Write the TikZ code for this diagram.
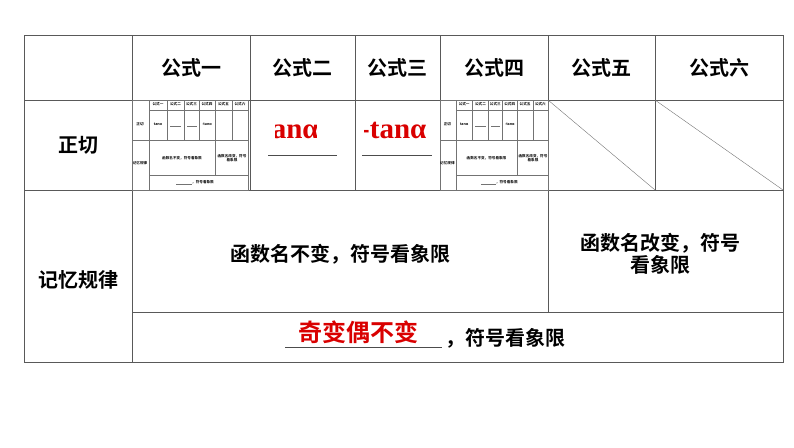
\documentclass[tikz,border=0pt]{standalone}
\usepackage{fontspec}
\newfontfamily\cjk{Noto Sans CJK SC Bold}
\setmainfont{Liberation Serif}
\begin{document}
\begin{tikzpicture}[x=1pt,y=-1pt,
  grid/.style={draw=black!65,line width=0.9pt},
  thin/.style={draw=black!55,line width=0.4pt},
  hd/.style={font=\cjk\fontsize{20}{22}\selectfont},
  tiny/.style={font=\cjk\fontsize{3.6}{4}\selectfont,inner sep=0pt},
  red/.style={text=red!85!black}]
\useasboundingbox (0,0) rectangle (794,447);
% main grid
\draw[grid] (24,35) rectangle (783,362);
\foreach \y in {100,190} \draw[grid] (24,\y) -- (783,\y);
\draw[grid] (132,312) -- (783,312);
\foreach \x in {132,250,355,440,548,655} \draw[grid] (\x,35) -- (\x,190);
\draw[grid] (132,190) -- (132,362);
\draw[grid] (548,190) -- (548,312);
% diagonals
\draw[thin] (548,100) -- (655,190);
\draw[thin] (655,100) -- (783,190);
% headers
\foreach \x/\t [count=\i] in {191/公式一,302/公式二,397/公式三,494/公式四,601/公式五,719/公式六}
  \node[hd] (h\i) at (\x,68) {\t};
\node[hd] (zq) at (78,145) {正切};
\node[hd] (jy) at (78,280) {记忆规律};
% mini tables
\foreach \ox/\sx in {132/1,440/0.93}{
  \begin{scope}[shift={(\ox,0)},xscale=\sx]
  \draw[thin] (0,100) rectangle (116,190);
  \draw[thin] (17,110) -- (116,110);
  \draw[thin] (0,140) -- (116,140);
  \draw[thin] (17,175) -- (116,175);
  \foreach \x in {35,52,67,83,100} \draw[thin] (\x,100) -- (\x,140);
  \draw[thin] (17,100) -- (17,190);
  \draw[thin] (83,140) -- (83,175);
  \foreach \x/\t in {26/公式一,43.5/公式二,59.5/公式三,75/公式四,91.5/公式五,108/公式六}
    \node[tiny] at (\x,104) {\t};
  \node[tiny] at (8,124) {正切};
  \node[tiny] at (8,163) {记忆规律};
  \node[tiny] at (26,124) {tanα};
  \node[tiny] at (75,124) {-tanα};
  \draw[thin] (38,126) -- (49,126);
  \draw[thin] (55,126) -- (65,126);
  \node[tiny] at (50,158) {函数名不变，符号看象限};
  \node[tiny,align=center] at (100,158) {函数名改变，符号\\看象限};
  \draw[thin] (44,184) -- (60,184);
  \node[tiny,anchor=west] at (60,182) {，符号看象限};
  \end{scope}}
% red cropped texts
\begin{scope}
\clip (275,105) rectangle (316,148);
\node[red,font=\fontsize{29}{30}\selectfont\bfseries,anchor=west,inner sep=0pt] (a1) at (262,130) {tanα};
\end{scope}
\begin{scope}
\clip (364,105) rectangle (428,148);
\node[red,font=\fontsize{29}{30}\selectfont\bfseries,anchor=west,inner sep=0pt] (a2) at (360,130) {-tanα};
\end{scope}
\draw[black!70,line width=1pt] (268,155) -- (337,155);
\draw[black!70,line width=1pt] (362,155) -- (432,155);
% memory row
\node[hd] (m1) at (340,254) {函数名不变，符号看象限};
\node[hd,align=center] (m2) at (660,254) {函数名改变，符号\\看象限};
\draw[black!70,line width=1pt] (285,347) -- (442,347);
\node[red,font=\cjk\fontsize{24}{26}\selectfont] (m3) at (358,332) {奇变偶不变};
\node[hd,anchor=west] (m4) at (442,338) {，符号看象限};
\end{tikzpicture}
\end{document}
